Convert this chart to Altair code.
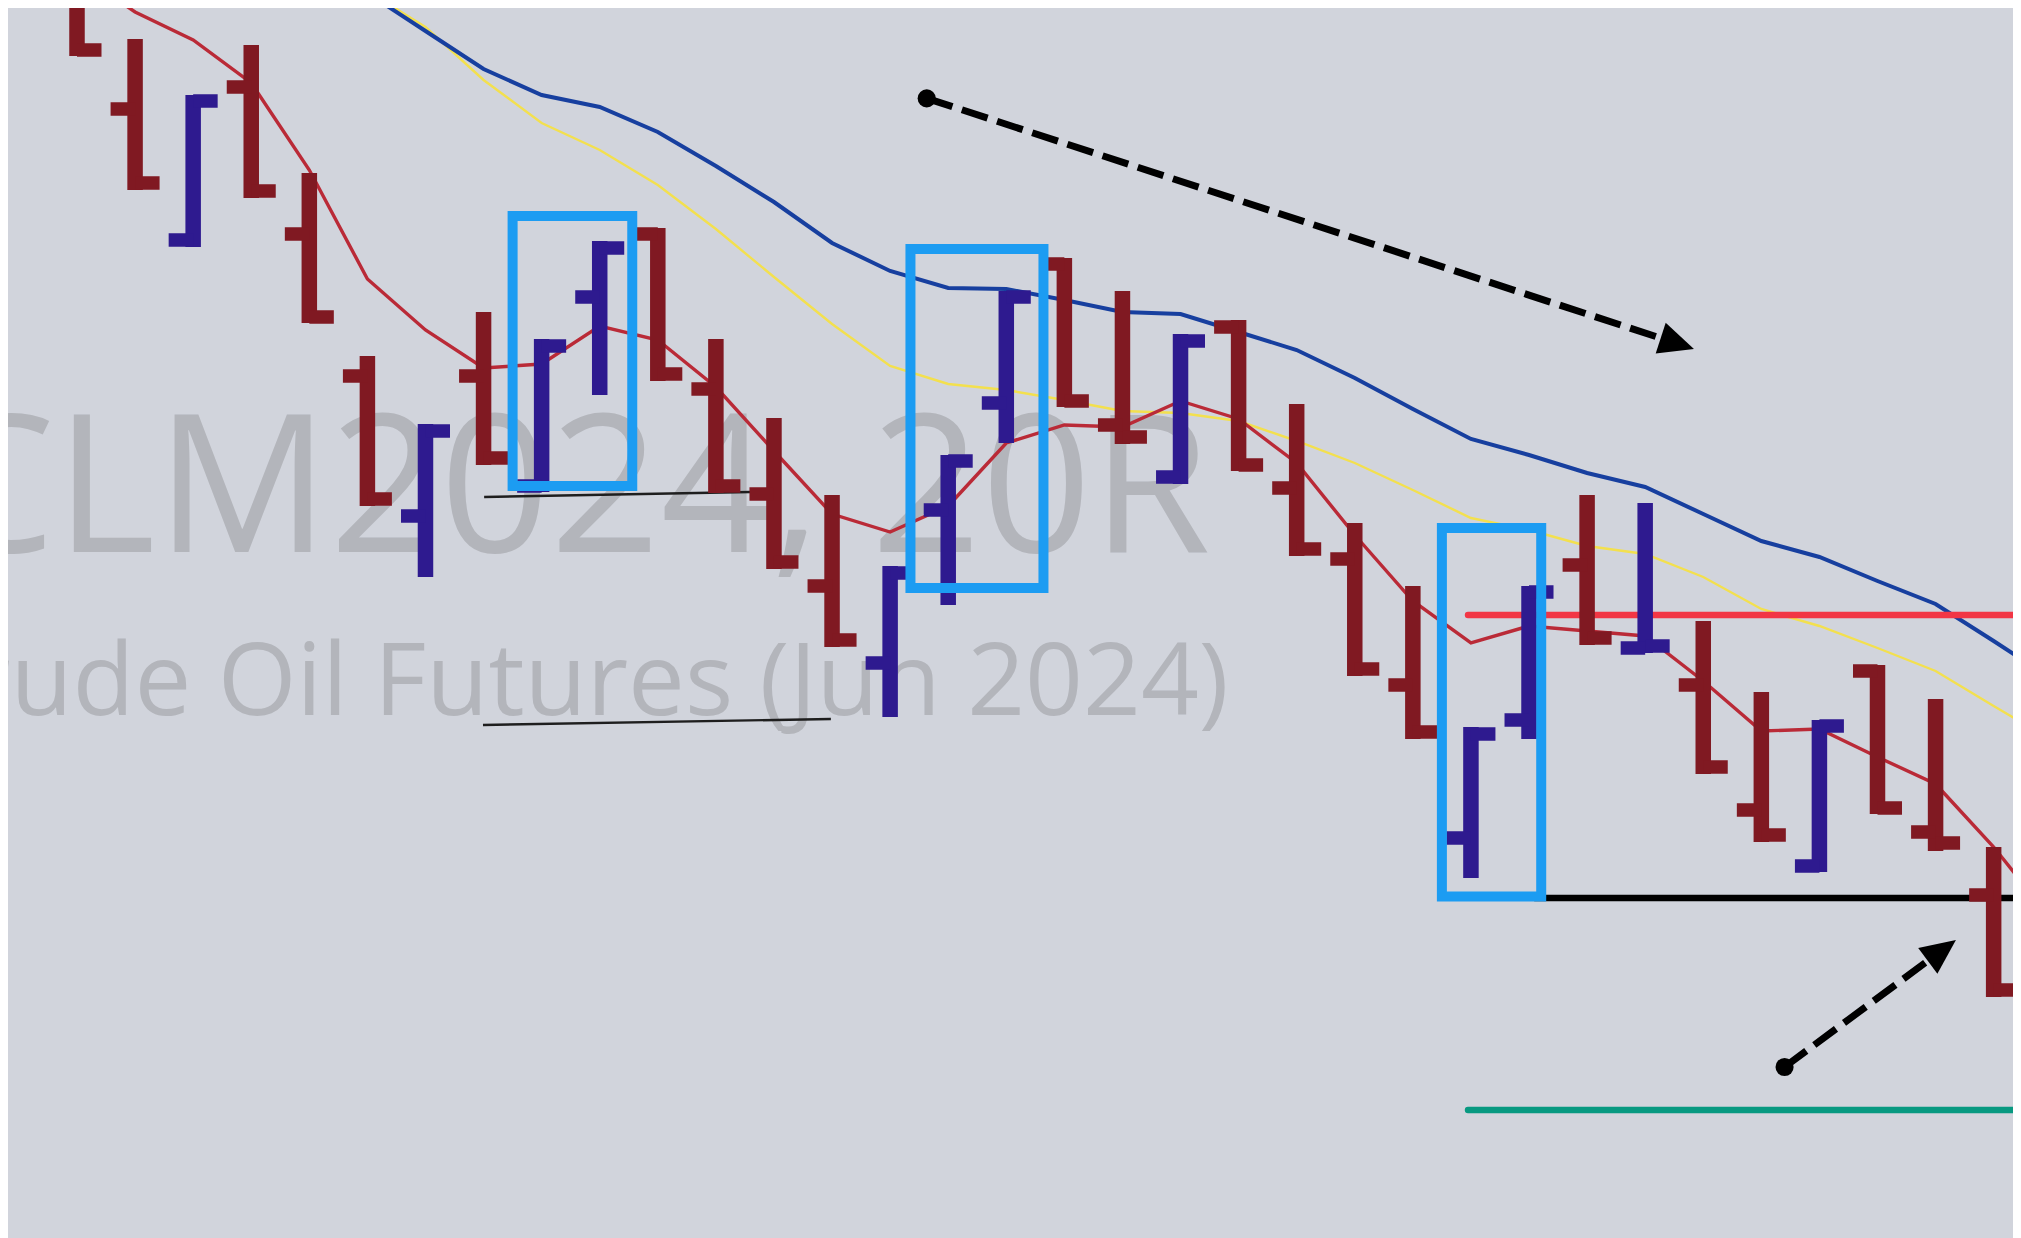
import math
import altair as alt
import pandas as pd

# ---------------- data (price units) ----------------
bar_index = list(range(1, 35))
opens = [86.95, 85.61, 84.30, 85.83, 84.36, 82.94, 81.54, 82.94, 81.84, 83.73, 84.36, 82.81,
         81.76, 80.84, 80.07, 81.60, 82.67, 84.06, 82.45, 81.93, 83.43, 81.82, 81.11, 79.85,
         78.32, 79.50, 81.05, 80.22, 79.85, 78.60, 78.04, 79.99, 78.38, 77.75]
highs = [87.10, 86.31, 85.75, 86.25, 84.97, 83.14, 82.46, 83.58, 83.31, 84.29, 84.42, 83.31,
         82.52, 81.75, 81.04, 82.15, 83.79, 84.12, 83.79, 83.36, 83.50, 82.66, 81.47, 80.84,
         79.43, 80.84, 81.75, 81.67, 80.49, 79.78, 79.50, 80.05, 79.71, 78.23]
lows = [86.14, 84.80, 84.23, 84.72, 83.47, 81.64, 80.93, 82.05, 81.78, 82.75, 82.89, 81.77,
        81.01, 80.23, 79.53, 80.65, 82.27, 82.63, 82.26, 81.86, 81.99, 81.14, 79.94, 79.31,
        77.92, 79.31, 80.25, 80.17, 78.96, 78.28, 77.98, 78.56, 78.19, 76.73]
closes = [86.20, 84.87, 85.69, 84.79, 83.53, 81.71, 82.39, 82.12, 83.24, 84.22, 82.96, 81.84,
          81.08, 80.30, 80.97, 82.09, 83.73, 82.69, 82.33, 83.29, 82.05, 81.21, 80.01, 79.38,
          79.36, 80.78, 80.32, 80.24, 79.03, 78.35, 79.44, 78.62, 78.27, 76.80]

# moving averages
ma_fast_index = list(range(1, 36))
ma_fast = [86.98, 86.58, 86.30, 85.87, 85.00, 83.91, 83.40, 83.02, 83.06, 83.44, 83.30, 82.83,
           82.19, 81.56, 81.38, 81.64, 82.27, 82.45, 82.43, 82.69, 82.51, 82.07, 81.35, 80.69,
           80.27, 80.44, 80.39, 80.34, 79.89, 79.39, 79.41, 79.13, 78.86, 78.23, 77.50]
ma_long_index = list(range(6, 36))
ma_mid = [86.79, 86.43, 85.90, 85.47, 85.20, 84.85, 84.41, 83.93, 83.46, 83.04, 82.86, 82.80,
          82.70, 82.59, 82.57, 82.49, 82.29, 82.07, 81.80, 81.52, 81.40, 81.24, 81.16, 80.93,
          80.61, 80.44, 80.22, 79.99, 79.64, 79.30]
ma_slow = [86.77, 86.39, 86.01, 85.75, 85.63, 85.38, 85.04, 84.68, 84.27, 83.99, 83.82, 83.81,
           83.70, 83.58, 83.56, 83.38, 83.20, 82.92, 82.61, 82.31, 82.15, 81.97, 81.83, 81.56,
           81.29, 81.13, 80.89, 80.66, 80.29, 79.91]

# horizontal levels
level_names = ["resistance", "support", "target"]
level_prices = [80.55, 77.72, 75.60]
level_from = [24.95, 26.10, 24.95]
level_to = [36.0, 36.0, 36.0]

# thin trend lines
trend_ids = ["a", "a", "b", "b"]
trend_x = [8.01, 12.59, 7.99, 13.98]
trend_p = [81.73, 81.78, 79.45, 79.51]

# highlight boxes
box_x1 = [8.50, 15.35, 24.50]
box_x2 = [10.56, 17.64, 26.21]
box_top = [84.54, 84.21, 81.42]
box_bottom = [81.84, 80.82, 77.735]

# arrows: start and tip
arrow_ids = ["down", "up"]
arrow_start_x = [15.63, 30.40]
arrow_start_p = [85.717, 76.03]
arrow_tip_x = [28.84, 33.35]
arrow_tip_p = [83.21, 77.30]

# watermark
wm_text = ["CLM2024, 20R", "Crude Oil Futures (Jun 2024)"]
wm_x = [20.52, 20.83]
wm_p = [81.18, 79.55]

# ---------------- styling ----------------
W, H = 2005, 1230
X0, X1 = -0.188, 34.333
Y0, Y1 = 74.32, 86.62
PX_X = W / (X1 - X0)   # px per bar index
PX_Y = H / (Y1 - Y0)   # px per price unit
BG = "#D1D4DC"
UP, DOWN = "#2E1A8F", "#801922"
TICK = 0.4218

xs = alt.Scale(domain=[X0, X1], nice=False, zero=False)
ys = alt.Scale(domain=[Y0, Y1], nice=False, zero=False)


def X(f):
    return alt.X(f, type="quantitative", scale=xs, axis=None)


def Y(f):
    return alt.Y(f, type="quantitative", scale=ys, axis=None)


bars = pd.DataFrame({"i": bar_index, "open": opens, "high": highs, "low": lows, "close": closes})
bars["dir"] = ["up" if c > o else "down" for o, c in zip(opens, closes)]
color_enc = alt.Color("dir:N", scale=alt.Scale(domain=["up", "down"], range=[UP, DOWN]), legend=None)

base_bars = alt.Chart(bars)
vert = base_bars.mark_rule(strokeWidth=15.5, strokeCap="butt", clip=True).encode(
    x=X("i"), y=Y("high"), y2="low", color=color_enc)
open_tick = base_bars.transform_calculate(xl=f"datum.i - {TICK}").mark_rule(
    strokeWidth=13.5, strokeCap="butt", clip=True).encode(
    x=X("xl"), x2="i", y=Y("open"), color=color_enc)
close_tick = base_bars.transform_calculate(xr=f"datum.i + {TICK}").mark_rule(
    strokeWidth=13.5, strokeCap="butt", clip=True).encode(
    x=X("i"), x2="xr", y=Y("close"), color=color_enc)

fast_df = pd.DataFrame({"i": ma_fast_index, "v": ma_fast})
mid_df = pd.DataFrame({"i": ma_long_index, "v": ma_mid})
slow_df = pd.DataFrame({"i": ma_long_index, "v": ma_slow})
ma_red = alt.Chart(fast_df).mark_line(color="#BA2A37", strokeWidth=3.4, clip=True).encode(x=X("i"), y=Y("v"))
ma_yel = alt.Chart(mid_df).mark_line(color="#F3E04E", strokeWidth=2.4, clip=True).encode(x=X("i"), y=Y("v"))
ma_blu = alt.Chart(slow_df).mark_line(color="#173F9F", strokeWidth=4, clip=True).encode(x=X("i"), y=Y("v"))

level_colors = {"resistance": "#F23645", "support": "#000000", "target": "#089981"}
level_layers = []
for n, p, a, b in zip(level_names, level_prices, level_from, level_to):
    d = pd.DataFrame({"p": [p], "x": [a], "x2": [b]})
    level_layers.append(
        alt.Chart(d).mark_rule(color=level_colors[n], strokeWidth=6.5, strokeCap="round", clip=True)
        .encode(x=X("x"), x2="x2", y=Y("p")))

trend_df = pd.DataFrame({"id": trend_ids, "x": trend_x, "p": trend_p})
trend = alt.Chart(trend_df).mark_line(color="#1E1E1E", strokeWidth=2.4, clip=True).encode(
    x=X("x"), y=Y("p"), detail="id:N")

box_df = pd.DataFrame({"x": box_x1, "x2": box_x2, "t": box_top, "b": box_bottom})
boxes = alt.Chart(box_df).mark_rect(fillOpacity=0, stroke="#1C9CF2", strokeWidth=10, clip=True).encode(
    x=X("x"), x2="x2", y=Y("t"), y2="b")

# arrow geometry derived from start/tip
line_rows, head_rows, dot_rows = [], [], []
for aid, si, sp, ti, tp in zip(arrow_ids, arrow_start_x, arrow_start_p, arrow_tip_x, arrow_tip_p):
    dx = (ti - si) * PX_X
    dy = -(tp - sp) * PX_Y
    L = math.hypot(dx, dy)
    ux, uy = dx / L, dy / L
    ang = math.degrees(math.atan2(uy, ux)) % 360
    ei, ep = ti - ux * 30 / PX_X, tp + uy * 30 / PX_Y
    hi, hp = ti - ux * 17.5 / PX_X, tp + uy * 17.5 / PX_Y
    line_rows += [{"id": aid, "k": 0, "x": si, "p": sp}, {"id": aid, "k": 1, "x": ei, "p": ep}]
    head_rows.append({"id": aid, "x": hi, "p": hp, "ang": ang})
    dot_rows.append({"id": aid, "x": si, "p": sp})

arrow_lines = alt.Chart(pd.DataFrame(line_rows)).mark_line(
    color="#000000", strokeWidth=7, strokeDash=[27, 10], strokeCap="butt", clip=True).encode(
    x=X("x"), y=Y("p"), detail="id:N", order="k:Q")
arrow_heads = alt.Chart(pd.DataFrame(head_rows)).mark_point(
    shape="M1,0L-1,-0.92L-1,0.92Z", filled=True, size=1225, color="#000000", opacity=1,
    strokeWidth=0, clip=True).encode(
    x=X("x"), y=Y("p"), angle=alt.Angle("ang:Q", scale=None))
arrow_dots = alt.Chart(pd.DataFrame(dot_rows)).mark_point(
    shape="circle", filled=True, size=330, color="#000000", opacity=1, strokeWidth=0, clip=True).encode(
    x=X("x"), y=Y("p"))

wm1 = alt.Chart(pd.DataFrame({"t": [wm_text[0]], "x": [wm_x[0]], "p": [wm_p[0]]})).mark_text(
    align="right", baseline="alphabetic", font="Open Sans", fontSize=193, color="#B3B5BB", clip=True).encode(
    x=X("x"), y=Y("p"), text="t:N")
wm2 = alt.Chart(pd.DataFrame({"t": [wm_text[1]], "x": [wm_x[1]], "p": [wm_p[1]]})).mark_text(
    align="right", baseline="alphabetic", font="Open Sans", fontSize=101.3, color="#B3B5BB", clip=True).encode(
    x=X("x"), y=Y("p"), text="t:N")

chart = alt.layer(
    wm1, wm2, ma_yel, ma_blu, ma_red, *level_layers, trend,
    vert, open_tick, close_tick, boxes, arrow_lines, arrow_heads, arrow_dots
).properties(
    width=W, height=H, background=BG, padding=0,
    autosize=alt.AutoSizeParams(type="none")
).configure_view(strokeWidth=0, fill=BG)

chart.save("out.html", embed_options={"renderer": "svg", "actions": False})
